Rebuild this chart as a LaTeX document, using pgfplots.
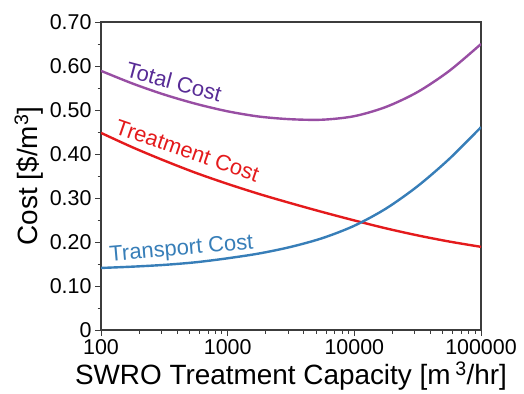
\documentclass[border=0pt]{standalone}
\usepackage{fontspec}
\setmainfont{Liberation Sans}
\usepackage{pgfplots}
\pgfplotsset{compat=1.18}
\definecolor{cTot}{RGB}{152,78,163}
\definecolor{cTotT}{RGB}{88,44,150}
\definecolor{cTre}{RGB}{228,26,28}
\definecolor{cTra}{RGB}{55,126,184}
\definecolor{axc}{RGB}{60,60,60}
\begin{document}
\begin{tikzpicture}
\begin{axis}[name=ax, at={(0,0)}, anchor=south west,
  scale only axis, width=380bp, height=308bp,
  xmode=log, xmin=100, xmax=100000, ymin=0, ymax=0.7,
  xtick={100,1000,10000,100000}, xticklabels={100,1000,10000,100000},
  ytick={0,0.1,0.2,0.3,0.4,0.5,0.6,0.7},
  yticklabels={0,0.10,0.20,0.30,0.40,0.50,0.60,0.70},
  minor ytick={0.05,0.15,0.25,0.35,0.45,0.55,0.65},
  tick align=outside, xtick pos=bottom, ytick pos=left,
  major tick length=6bp, minor tick length=3.5bp,
  axis line style={axc, line width=1.1bp},
  every tick/.style={axc, line width=1bp},
  every minor tick/.style={axc, line width=0.9bp},
  ticklabel style={font=\fontsize{21.5}{24}\selectfont},
  label style={font=\fontsize{28}{32}\selectfont},
  xlabel={SWRO Treatment Capacity [m\,\textsuperscript{3}/hr]},
  ylabel={Cost [\$/m\textsuperscript{3}]},
  /pgf/number format/assume math mode=true,
]
\addplot[cTre, line width=2.4bp, smooth] coordinates {
 (100,0.448) (178,0.415) (316,0.385) (562,0.357) (1000,0.332) (1778,0.309)
 (3162,0.288) (5623,0.268) (10000,0.249) (17783,0.231) (31623,0.215)
 (56234,0.201) (100000,0.189)};
\addplot[cTra, line width=2.4bp, smooth] coordinates {
 (100,0.141) (178,0.144) (316,0.148) (562,0.154) (1000,0.163) (1778,0.174)
 (3162,0.189) (5623,0.209) (10000,0.237) (17783,0.276) (31623,0.327)
 (56234,0.389) (100000,0.461)};
\addplot[cTot, line width=2.4bp, smooth] coordinates {
 (100,0.589) (178,0.560) (316,0.535) (562,0.514) (1000,0.497) (1778,0.485)
 (3162,0.479) (5623,0.478) (10000,0.486) (17783,0.507) (31623,0.541)
 (56234,0.589) (100000,0.650)};
\node[cTotT, rotate=-15, anchor=base, font=\fontsize{22}{24}\selectfont] at (axis cs:363,0.547) {Total Cost};
\node[cTre, rotate=-19, anchor=base, font=\fontsize{22}{24}\selectfont] at (axis cs:460,0.391) {Treatment Cost};
\node[cTra, rotate=5, anchor=base, font=\fontsize{22}{24}\selectfont] at (axis cs:436,0.170) {Transport Cost};
\end{axis}
\pgfresetboundingbox
\path[use as bounding box] (ax.south west) ++(-101bp,-64bp) rectangle ++(524bp,394bp);
\end{tikzpicture}
\end{document}
